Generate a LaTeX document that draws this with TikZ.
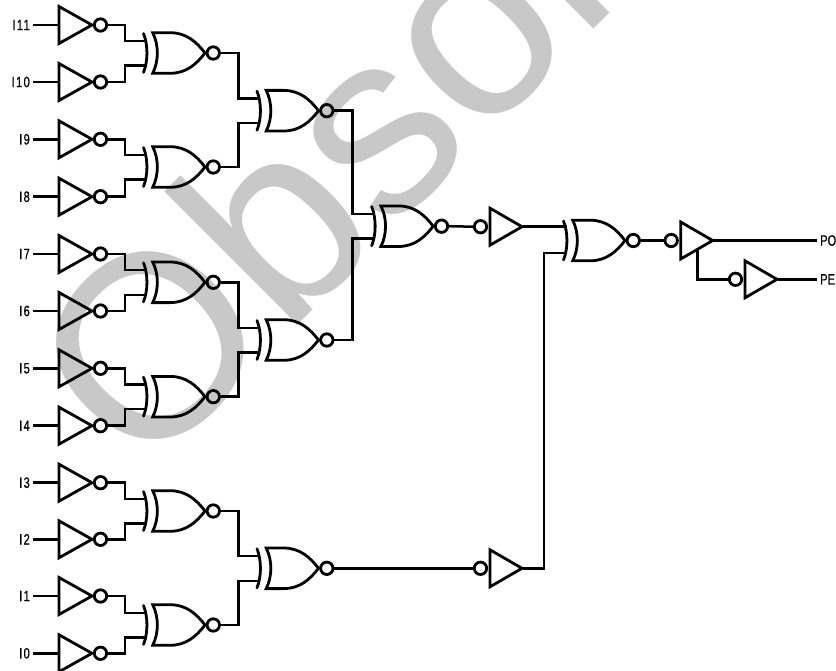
\documentclass[tikz,border=0pt]{standalone}
\usepackage{fontspec}
\setmainfont[FakeStretch=0.74,FakeBold=0.6]{Liberation Sans}
\newfontfamily\pinfont[FakeStretch=0.74,FakeBold=0.6,LetterSpace=9]{Liberation Sans}
\newfontfamily\wmfont{Liberation Sans}
\definecolor{wmgray}{HTML}{C8C8C8}
\tikzset{
  wire/.style={line width=2.5bp,line cap=butt,line join=miter},
  sym/.style={line width=2.8bp,line join=miter,line cap=round},
  bub/.style={circle,draw,line width=2.8bp,inner sep=0pt,minimum size=12.4bp,fill=none},
  pinlabel/.style={font=\fontsize{15bp}{15bp}\selectfont,inner xsep=3bp,inner ysep=0pt},
  inlabel/.style={font=\pinfont\fontsize{15bp}{15bp}\selectfont,inner xsep=3bp,inner ysep=0pt},
  watermark/.style={font=\wmfont\fontsize{260bp}{260bp}\selectfont,text=wmgray,inner sep=0pt,anchor=base west,rotate=45}
}
% inverter: triangle then bubble; #1 name, #2 y
\newcommand{\invgate}[2]{%
  \begin{scope}[shift={(59,#2)}]
    \draw[sym] (0,-18.5) -- (33,0) -- (0,18.5) -- cycle;
    \coordinate (#1in) at (0,0);
    \node[bub] (#1b) at (41.5,0) {};
  \end{scope}}
% buffer with input bubble; #1 name, #2 x of triangle left, #3 y
\newcommand{\bufgate}[3]{%
  \begin{scope}[shift={(#2,#3)}]
    \draw[sym] (0,-18.5) -- (32,0) -- (0,18.5) -- cycle;
    \coordinate (#1out) at (32.5,0);
    \node[bub] (#1b) at (-9.5,0) {};
  \end{scope}}
% exclusive-nor; #1 name, #2 x of back arc tips, #3 y
\newcommand{\xnor}[3]{%
  \begin{scope}[shift={(#2,#3)}]
    \draw[sym] (0,-19.5) .. controls (4.6,-8) and (4.6,8) .. (0,19.5);
    \draw[sym] (9.2,-20.3) -- (26.5,-20.3) .. controls (43,-20.3) and (53,-11) .. (61.5,0)
      .. controls (53,11) and (43,20.3) .. (26.5,20.3) -- (9.2,20.3)
      .. controls (15.4,8) and (15.4,-8) .. (9.2,-20.3) -- cycle;
    \coordinate (#1a) at (3,-12.2);
    \coordinate (#1c) at (3,12.5);
    \node[bub] (#1b) at (69.8,0) {};
  \end{scope}}
\newcommand{\elbow}[3]{\draw[wire] (#1) -- (#1 -| #2) -- (#3 -| #2) -- (#3);}
\begin{document}
\begin{tikzpicture}[x=1bp,y=-1bp]
\useasboundingbox (0,0) rectangle (836,671);
\clip (0,0) rectangle (836,671);
\node[watermark] (wm) at (142,481) {Obsol};

% vertical bus positions
\coordinate (busA) at (125,0);
\coordinate (busB) at (238.5,0);
\coordinate (busC) at (352.7,0);
\coordinate (busD) at (544,0);

% inverters with labels
\foreach \nm/\lab/\yy in {i11/I11/25,i10/I10/82,i9/I9/139.3,i8/I8/196.7,i7/I7/254,i6/I6/311,i5/I5/368.3,i4/I4/425.7,i3/I3/482.7,i2/I2/539.3,i1/I1/596,i0/I0/653.3}{
  \invgate{\nm}{\yy}
  \node[inlabel,anchor=east] (l\nm) at (33,\yy) {\lab};
  \draw[wire] (l\nm.east) -- (\nm in);
}

% first-level gates
\xnor{ga}{143.5}{53}
\xnor{gb}{143.5}{167}
\xnor{gc}{143.5}{282.3}
\xnor{gd}{143.5}{396.7}
\xnor{ge}{143.5}{511}
\xnor{gf}{143.5}{625}
% second level
\xnor{ha}{257}{110.7}
\xnor{hb}{257}{340}
\xnor{hc}{257}{568.3}
% third and fourth
\xnor{ka}{371.7}{226.2}
\xnor{ma}{563.5}{240.5}

% output buffers
\bufgate{ba}{490}{226.7}
\bufgate{bb}{490}{568.3}
\bufgate{bc}{680.7}{240.5}
\bufgate{bd}{745}{279.3}

% pin labels at right
\node[pinlabel,anchor=west] (po) at (817,240.5) {PO};
\node[pinlabel,anchor=west] (pe) at (817,279.3) {PE};

% wiring: inverters to first level
\elbow{i11b.east}{busA}{gaa}
\elbow{i10b.east}{busA}{gac}
\elbow{i9b.east}{busA}{gba}
\elbow{i8b.east}{busA}{gbc}
\elbow{i7b.east}{busA}{gca}
\elbow{i6b.east}{busA}{gcc}
\elbow{i5b.east}{busA}{gda}
\elbow{i4b.east}{busA}{gdc}
\elbow{i3b.east}{busA}{gea}
\elbow{i2b.east}{busA}{gec}
\elbow{i1b.east}{busA}{gfa}
\elbow{i0b.east}{busA}{gfc}
% first to second level
\elbow{gab.east}{busB}{haa}
\elbow{gbb.east}{busB}{hac}
\elbow{gcb.east}{busB}{hba}
\elbow{gdb.east}{busB}{hbc}
\elbow{geb.east}{busB}{hca}
\elbow{gfb.east}{busB}{hcc}
% second to third
\elbow{hab.east}{busC}{kaa}
\elbow{hbb.east}{busC}{kac}
\draw[wire] (hcb.east) -- (bbb.west);
\draw[wire] (kab.east) -- (bab.west);
\draw[wire] (baout) -- (baout -| maa);
\elbow{bbout}{busD}{mac}
\draw[wire] (mab.east) -- (bcb.west);
\draw[wire] (bcout) -- (po.west);
\coordinate (tap) at (697.7,250);
\draw[wire] (tap) |- (bdb.west);
\draw[wire] (bdout) -- (pe.west);
\end{tikzpicture}
\end{document}
